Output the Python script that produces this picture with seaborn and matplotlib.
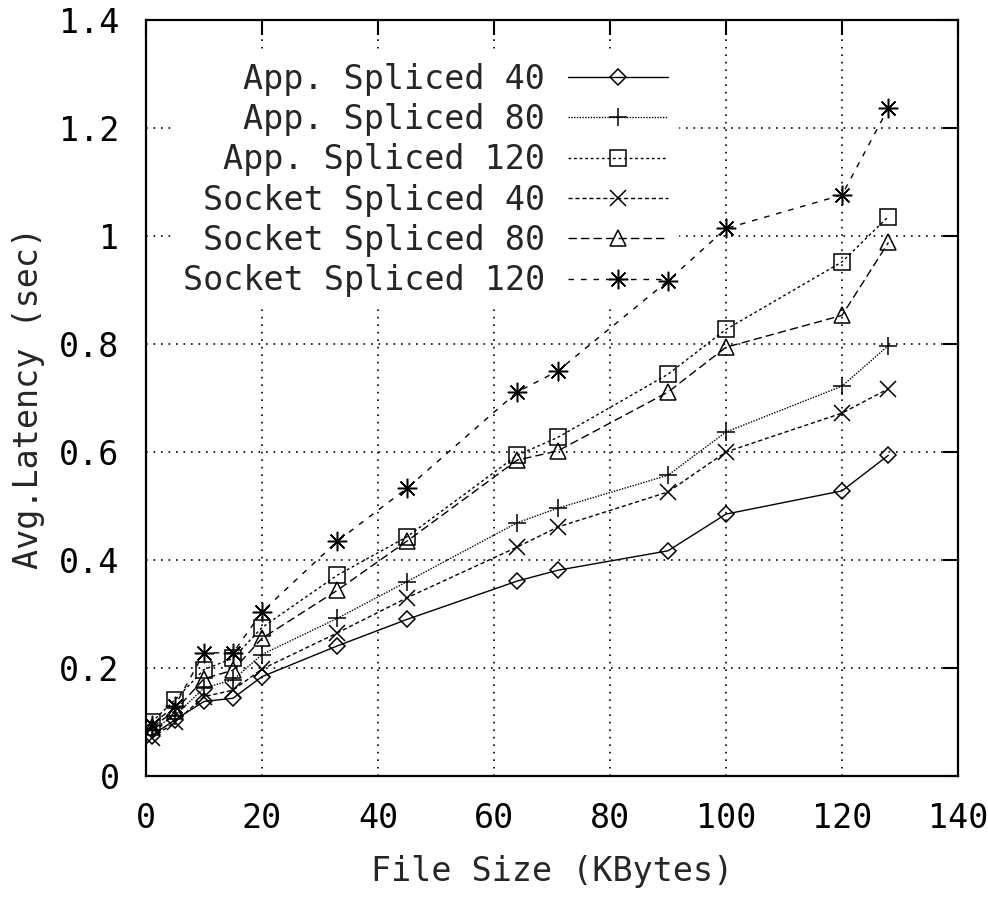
import matplotlib
matplotlib.use("Agg")
import matplotlib.pyplot as plt
import seaborn as sns
import numpy as np

file_size = [1, 5, 10, 15, 20, 33, 45, 64, 71, 90, 100, 120, 128]

app_40 = [0.075, 0.104, 0.138, 0.144, 0.184, 0.241, 0.290, 0.361, 0.381, 0.417, 0.485, 0.528, 0.594]
app_80 = [0.085, 0.112, 0.163, 0.178, 0.225, 0.292, 0.360, 0.469, 0.496, 0.557, 0.637, 0.722, 0.797]
app_120 = [0.100, 0.141, 0.197, 0.218, 0.275, 0.372, 0.443, 0.594, 0.627, 0.744, 0.827, 0.952, 1.036]
sock_40 = [0.070, 0.100, 0.147, 0.159, 0.198, 0.265, 0.330, 0.424, 0.461, 0.526, 0.600, 0.672, 0.717]
sock_80 = [0.090, 0.121, 0.180, 0.196, 0.255, 0.344, 0.435, 0.585, 0.602, 0.711, 0.794, 0.853, 0.988]
sock_120 = [0.095, 0.130, 0.228, 0.228, 0.304, 0.435, 0.533, 0.711, 0.750, 0.917, 1.014, 1.076, 1.237]

labels = ["App. Spliced 40", "App. Spliced 80", "App. Spliced 120",
          "Socket Spliced 40", "Socket Spliced 80", "Socket Spliced 120"]
series = [app_40, app_80, app_120, sock_40, sock_80, sock_120]

x_ticks = [0, 20, 40, 60, 80, 100, 120, 140]
y_ticks = [0, 0.2, 0.4, 0.6, 0.8, 1.0, 1.2, 1.4]
y_tick_labels = ["0", "0.2", "0.4", "0.6", "0.8", "1", "1.2", "1.4"]

sns.set_style("white")
plt.rcParams['font.family'] = ['DejaVu Sans Mono', 'DejaVu Sans']
FS = 24

fig = plt.figure(figsize=(9.88, 8.97), dpi=100)
ax = fig.add_axes([146/988, 1-776/897, (958-146)/988, (776-20)/897])

styles = [
    dict(linestyle='-', marker='D', markersize=8),
    dict(linestyle=(0, (1, 1)), marker='+', markersize=13),
    dict(linestyle=(0, (2, 2)), marker='s', markersize=11),
    dict(linestyle=(0, (3, 2)), marker='x', markersize=11),
    dict(linestyle=(0, (6, 3)), marker='^', markersize=11),
    dict(linestyle=(0, (4, 5)), marker=(8, 2, 0), markersize=14),
]

for vals, lab, st in zip(series, labels, styles):
    sns.lineplot(x=file_size, y=vals, ax=ax, color='black', linewidth=1.0,
                 label=lab, markerfacecolor='none', markeredgecolor='black',
                 markeredgewidth=1.1, zorder=3, **st)

ax.set_xlim(0, 140)
ax.set_ylim(0, 1.4)
ax.set_xticks(x_ticks)
ax.set_xticklabels([str(t) for t in x_ticks])
ax.set_yticks(y_ticks)
ax.set_yticklabels(y_tick_labels)
ax.set_axisbelow(True)
ax.grid(True, color='black', linestyle=(0, (1, 3.5)), linewidth=1.2)
ax.tick_params(axis='both', which='major', direction='in', length=11, width=1.5,
               top=True, right=True, labelsize=FS, pad=19, colors='black')
for sp in ax.spines.values():
    sp.set_color('black')
    sp.set_linewidth(1.6)

ax.set_xlabel("File Size (KBytes)", fontsize=FS, labelpad=14)
ax.set_ylabel("Avg.Latency (sec)", fontsize=FS, labelpad=10)

leg = ax.legend(loc='upper right', bbox_to_anchor=(695/988, 1-36/897),
                bbox_transform=fig.transFigure, markerfirst=False, frameon=True,
                fontsize=FS, handlelength=3.0, handletextpad=0.7,
                labelspacing=0.22, borderpad=0.3, numpoints=1, fancybox=False)
leg.get_frame().set_facecolor('white')
leg.get_frame().set_edgecolor('white')
leg.get_frame().set_alpha(1.0)
leg.set_zorder(1.5)

fig.savefig("out.png", dpi=100)
